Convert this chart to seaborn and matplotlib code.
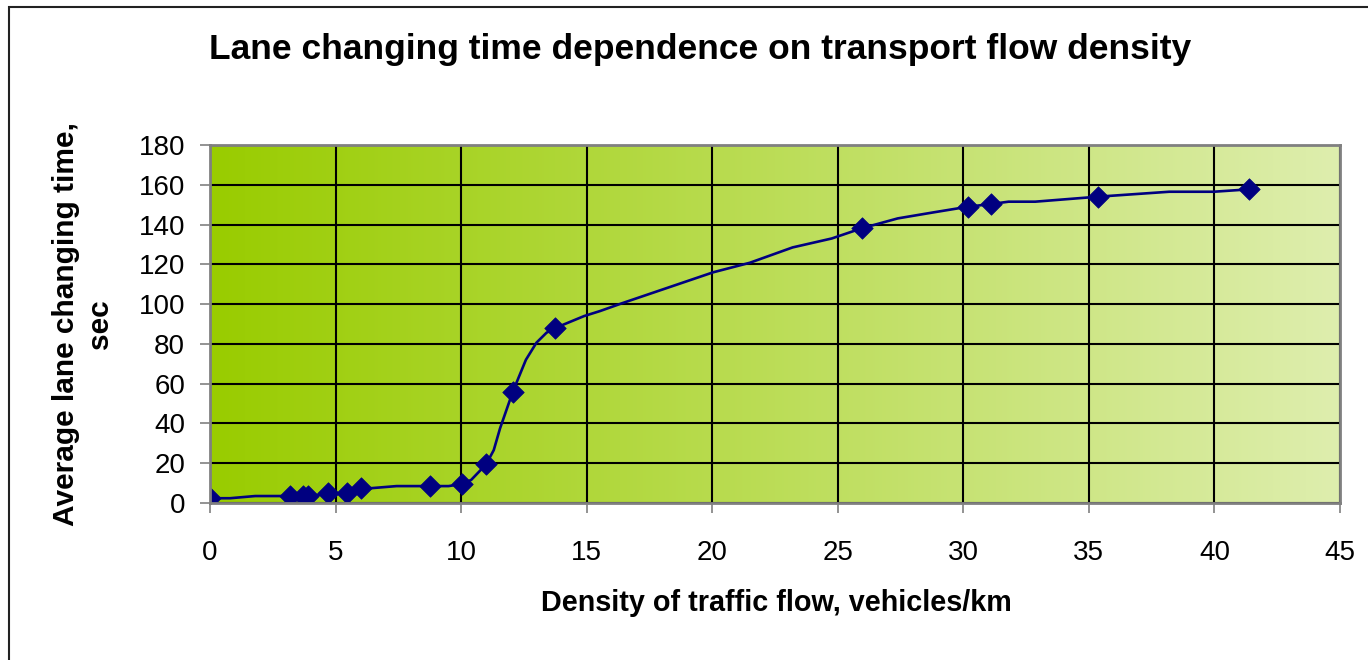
# %% Imports

import matplotlib.pyplot as plt
import matplotlib.patches as mpatches
import numpy as np
import pandas as pd
import seaborn as sns

# %% Data

# measured points (diamonds)
DENSITY = [0, 3.2, 3.7, 3.9, 4.7, 5.45, 6.0, 8.76, 10.05, 11.0, 12.06, 13.75,
           25.95, 30.2, 31.1, 35.35, 41.37]
LC_TIME = [2.4, 3.5, 3.5, 3.5, 4.8, 4.8, 7.4, 8.5, 9.6, 19.5, 56, 88,
           138.1, 149, 150.3, 154, 157.7]

# vertices of the drawn (smoothed) curve
CURVE_X = [0, 0.8, 1.8, 3.2, 3.9, 4.7, 5.45, 6.0, 6.37, 7.43, 8.76, 9.5,
           10.05, 10.4, 11.0, 11.3, 11.55, 12.06, 12.58, 13.0, 13.4, 13.75,
           14.9, 15.53, 16.4, 20.04, 21.5, 23.2, 24.76, 25.95, 27.39, 28.8,
           30.2, 31.1, 31.8, 32.86, 35.35, 38.2, 39.97, 41.37]
CURVE_Y = [2.4, 2.4, 3.5, 3.5, 3.5, 4.6, 4.6, 7.4, 7.4, 8.5, 8.5, 8.5,
           9.6, 11.6, 19.5, 26.6, 37.5, 56, 72, 80.6, 85.6, 88,
           94, 96.5, 100.4, 116, 120.8, 128.5, 133, 138.1, 143.1, 146.1,
           149, 150.3, 151.5, 151.5, 154, 156.5, 156.5, 157.7]

X_TICKS = list(range(0, 46, 5))
Y_TICKS = list(range(0, 181, 20))

points = pd.DataFrame({"density": DENSITY, "time": LC_TIME})
curve = pd.DataFrame({"density": CURVE_X, "time": CURVE_Y})

# %% Plot

sns.set_style("white")
plt.rcParams["font.family"] = ["Liberation Sans", "DejaVu Sans"]
plt.rcParams["text.color"] = "black"
plt.rcParams["xtick.color"] = "black"
plt.rcParams["ytick.color"] = "black"

navy = "#000080"

fig = plt.figure(figsize=(13.68, 6.6), dpi=100)
ax = fig.add_axes([210 / 1368, 1 - 503 / 660, 1130 / 1368, 358 / 660])

# horizontal gradient background of the plot area
left_c = np.array([0x99, 0xCC, 0x00]) / 255
right_c = np.array([0xDE, 0xEE, 0xAE]) / 255
t = np.linspace(0, 1, 256)[None, :, None]
grad = left_c * (1 - t) + right_c * t
ax.imshow(grad, extent=[0, 1, 0, 1], transform=ax.transAxes,
          aspect="auto", zorder=0, interpolation="bilinear")

sns.lineplot(data=curve, x="density", y="time", color=navy, linewidth=1.9,
             ax=ax, zorder=3)
sns.scatterplot(data=points, x="density", y="time", marker="D", s=120,
                color=navy, edgecolor=navy, linewidth=0.5, ax=ax, zorder=4)

ax.set_xlim(0, 45)
ax.set_ylim(0, 180)
ax.set_xticks(X_TICKS)
ax.set_yticks(Y_TICKS)
ax.grid(True, color="black", linewidth=1.5)
ax.set_axisbelow(False)
for line in ax.get_xgridlines() + ax.get_ygridlines():
    line.set_zorder(1)

ax.tick_params(axis="both", which="major", labelsize=20, length=7,
               width=1.2, color="#808080", labelcolor="black",
               direction="out", bottom=True, left=True)
ax.tick_params(axis="x", pad=20)
ax.tick_params(axis="y", pad=11)
for sp in ax.spines.values():
    sp.set_color("#808080")
    sp.set_linewidth(2)
    sp.set_zorder(5)

ax.set_xlabel("")
ax.set_ylabel("")

fig.text(700 / 1368, 1 - 50 / 660, "Lane changing time dependence on transport flow density",
         ha="center", va="center", fontsize=25.5, fontweight="bold")
fig.text(776 / 1368, 1 - 603 / 660, "Density of traffic flow, vehicles/km",
         ha="center", va="center", fontsize=20.7, fontweight="bold")
fig.text(83 / 1368, 1 - 324 / 660, "Average lane changing time,\nsec",
         ha="center", va="center", rotation=90, fontsize=21.5,
         fontweight="bold", multialignment="center", linespacing=1.3)

# outer chart border
fig.patches.append(mpatches.Rectangle(
    (8.5 / 1368, -0.1), 1.2, 1 - 7 / 660 + 0.1, transform=fig.transFigure,
    fill=False, edgecolor="#222222", linewidth=1.5, clip_on=False))

fig.savefig("out.png", dpi=100)
